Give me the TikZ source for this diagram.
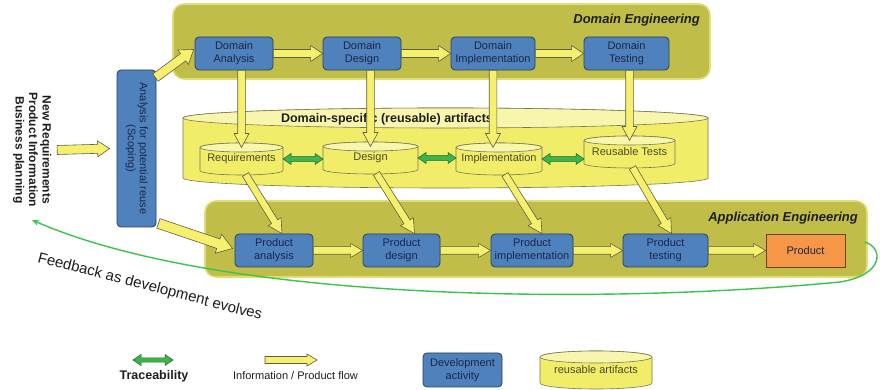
\documentclass[tikz,border=0pt]{standalone}
\usepackage{fontspec}
\setmainfont{Liberation Sans}
\setsansfont{Liberation Sans}
\usepackage{graphicx}
\usetikzlibrary{calc,arrows.meta}
\pgfdeclarelayer{bg}
\pgfdeclarelayer{mid}
\pgfsetlayers{bg,mid,main}
\definecolor{engfill}{RGB}{192,190,72}
\definecolor{engedge}{RGB}{224,222,120}
\definecolor{actfill}{RGB}{79,129,189}
\definecolor{actedge}{RGB}{40,62,98}
\definecolor{acttext}{RGB}{25,40,72}
\definecolor{artbody}{RGB}{242,237,104}
\definecolor{arttop}{RGB}{248,245,172}
\definecolor{artedge}{RGB}{120,120,85}
\definecolor{arttext}{RGB}{75,75,45}
\definecolor{flowfill}{RGB}{246,240,110}
\definecolor{flowedge}{RGB}{95,95,75}
\definecolor{tracefill}{RGB}{62,180,76}
\definecolor{traceedge}{RGB}{30,105,40}
\definecolor{prodfill}{RGB}{247,150,70}
\definecolor{prodedge}{RGB}{105,68,30}
\definecolor{fbgreen}{RGB}{60,195,75}
\definecolor{txtdark}{RGB}{30,30,30}
\tikzset{
  eng/.style={rectangle, rounded corners=11pt, fill=engfill, draw=engedge, line width=1.6pt, inner sep=0pt},
  act/.style={rectangle, rounded corners=4pt, fill=actfill, draw=actedge, line width=0.8pt,
    text=acttext, font=\fontsize{11}{13}\selectfont, align=center, inner sep=1pt, minimum height=33pt},
  prodbox/.style={act, rounded corners=0pt, fill=prodfill, draw=prodedge},
  artnode/.style={rectangle, inner sep=0pt, outer sep=0pt, text=arttext, font=\fontsize{11}{13}\selectfont},
  cylline/.style={draw=artedge, line width=0.6pt},
  flow/.style={fill=flowfill, draw=flowedge, line width=0.6pt, line join=miter},
  trace/.style={fill=tracefill, draw=traceedge, line width=0.5pt},
  englabel/.style={font=\fontsize{13}{15}\selectfont\bfseries\itshape, text=txtdark, inner sep=0pt},
  fb/.style={draw=fbgreen, line width=1.4pt, -{Stealth[length=7pt,width=6pt]}},
}
\newcommand\fatarrow[6]{%
  \draw[#1] let \p1=(#2), \p2=(#3), \n1={atan2(\y2-\y1,\x2-\x1)} in
    ($(\p1)+({\n1+90}:#4)$)
    -- ($(\p2)+({\n1+180}:#6)+({\n1+90}:#4)$)
    -- ($(\p2)+({\n1+180}:#6)+({\n1+90}:#5)$)
    -- (\p2)
    -- ($(\p2)+({\n1+180}:#6)+({\n1-90}:#5)$)
    -- ($(\p2)+({\n1+180}:#6)+({\n1-90}:#4)$)
    -- ($(\p1)+({\n1-90}:#4)$) -- cycle;}
\newcommand\dblarrow[6]{%
  \draw[#1] let \p1=(#2), \p2=(#3), \n1={atan2(\y2-\y1,\x2-\x1)} in
    (\p1)
    -- ($(\p1)+(\n1:#6)+({\n1+90}:#5)$)
    -- ($(\p1)+(\n1:#6)+({\n1+90}:#4)$)
    -- ($(\p2)+({\n1+180}:#6)+({\n1+90}:#4)$)
    -- ($(\p2)+({\n1+180}:#6)+({\n1+90}:#5)$)
    -- (\p2)
    -- ($(\p2)+({\n1+180}:#6)+({\n1-90}:#5)$)
    -- ($(\p2)+({\n1+180}:#6)+({\n1-90}:#4)$)
    -- ($(\p1)+(\n1:#6)+({\n1-90}:#4)$)
    -- ($(\p1)+(\n1:#6)+({\n1-90}:#5)$) -- cycle;}
\newcommand\drawcyl[4]{%
  \draw[cylline, fill=#3] let \p1=(#1.north west), \p2=(#1.south east), \n1={(\x2-\x1)/2} in
    (\p1) -- (\x1,\y2) arc[start angle=180, end angle=360, x radius=\n1*1pt, y radius=#2]
    -- (\x2,\y1) arc[start angle=0, end angle=180, x radius=\n1*1pt, y radius=#2] -- cycle;
  \draw[cylline, fill=#4] let \p1=(#1.north west), \p2=(#1.south east), \n1={(\x2-\x1)/2} in
    ($(\p1)!0.5!(\x2,\y1)$) ellipse[x radius=\n1*1pt, y radius=#2];}
\begin{document}
\begin{tikzpicture}[x=1pt, y=1pt]
\useasboundingbox (0,0) rectangle (880,390);

% ---------- background layer: engineering areas and artifact repository
\begin{pgfonlayer}{bg}
  \fill[white] (0,0) rectangle (880,390);
  \node[eng, minimum width=537pt, minimum height=75pt] (de) at (441.5,348.5) {};
  \node[eng, minimum width=662pt, minimum height=76pt] (ae) at (536,151) {};
  \node[artnode, minimum width=525pt, minimum height=60pt] (arts) at (445.5,242) {};
  \drawcyl{arts}{10pt}{artbody}{arttop}
\end{pgfonlayer}

\node[englabel, anchor=base east] (delab) at (700,366) {Domain Engineering};
\node[englabel, anchor=base east] (aelab) at (858,168) {Application Engineering};
\node[font=\fontsize{12.5}{14}\selectfont\bfseries, text=txtdark, inner sep=0pt, anchor=base] (artlab) at (387,267) {Domain-specific (reusable) artifacts};

% ---------- domain activities
\node[act, minimum width=78pt] (da) at (234,336.5) {Domain\\Analysis};
\node[act, minimum width=78pt] (dd) at (362,336.5) {Domain\\Design};
\node[act, minimum width=84pt] (di) at (493,336.5) {Domain\\Implementation};
\node[act, minimum width=85pt] (dt) at (626.5,336.5) {Domain\\Testing};

% ---------- reusable artifacts
\node[artnode, minimum width=83pt, minimum height=23pt] (req) at (241.5,231) {Requirements};
\node[artnode, minimum width=95pt, minimum height=23pt] (des) at (370.5,232) {Design};
\node[artnode, minimum width=86pt, minimum height=23pt] (imp) at (499,231) {Implementation};
\node[artnode, minimum width=91pt, minimum height=23pt] (rt) at (629.5,238) {Reusable Tests};
\begin{pgfonlayer}{mid}
  \drawcyl{req}{4.5pt}{artbody}{arttop}
  \drawcyl{des}{4.5pt}{artbody}{arttop}
  \drawcyl{imp}{4.5pt}{artbody}{arttop}
  \drawcyl{rt}{4.5pt}{artbody}{arttop}
\end{pgfonlayer}

% ---------- product activities
\node[act, minimum width=78pt] (pa) at (274,139.5) {Product\\analysis};
\node[act, minimum width=77pt] (pd) at (401.5,139.5) {Product\\design};
\node[act, minimum width=82pt] (pim) at (532,139.5) {Product\\implementation};
\node[act, minimum width=85pt] (pt) at (665.5,139.5) {Product\\testing};
\node[prodbox, minimum width=79pt] (prod) at (805.5,139.5) {Product};

% ---------- scoping and input
\node[act, minimum width=39pt, minimum height=157pt, inner sep=0pt] (scope) at (136.5,241.5)
  {\rotatebox{-90}{\begin{tabular}{@{}c@{}}Analysis for potential reuse\\[-1pt](Scoping)\end{tabular}}};
\node[inner sep=0pt, text=txtdark, font=\fontsize{12}{15}\selectfont\bfseries] (input) at (32,240)
  {\rotatebox{-90}{\begin{tabular}{@{}c@{}}New Requirements\\[-1.5pt]Product Information\\[-1.5pt]Business planning\end{tabular}}};

% ---------- information / product flow
\fatarrow{flow}{$(input.east)+(4,0)$}{$(scope.west)+(-7,0)$}{4.5pt}{8pt}{12pt}
\fatarrow{flow}{$(scope.north east)+(-1,-8)$}{$(da.west)+(-1,4)$}{4.5pt}{9pt}{13pt}
\fatarrow{flow}{$(scope.south east)+(2,4)$}{$(pa.west)+(-2,2)$}{5pt}{10pt}{15pt}

\fatarrow{flow}{da.east}{dd.west}{4pt}{8pt}{12pt}
\fatarrow{flow}{dd.east}{di.west}{4pt}{8pt}{12pt}
\fatarrow{flow}{di.east}{dt.west}{4pt}{8pt}{12pt}

\fatarrow{flow}{req.north |- da.south}{req.north}{3.8pt}{7.5pt}{14pt}
\fatarrow{flow}{des.north |- dd.south}{des.north}{3.8pt}{7.5pt}{14pt}
\fatarrow{flow}{di.south}{di.south |- imp.north}{3.8pt}{7.5pt}{14pt}
\fatarrow{flow}{rt.north |- dt.south}{rt.north}{3.8pt}{7.5pt}{14pt}

\fatarrow{flow}{$(req.south)+(4,-4)$}{$(pa.north)+(8,0)$}{3.6pt}{7.5pt}{14pt}
\fatarrow{flow}{$(des.south)+(6,-4)$}{$(pd.north)+(13,0)$}{3.6pt}{7.5pt}{14pt}
\fatarrow{flow}{$(imp.south)+(6,-4)$}{$(pim.north)+(10,0)$}{3.6pt}{7.5pt}{14pt}
\fatarrow{flow}{$(rt.south)+(3,-4)$}{$(pt.north)+(6,0)$}{3.6pt}{7.5pt}{14pt}

\fatarrow{flow}{pa.east}{pd.west}{3.8pt}{7pt}{12pt}
\fatarrow{flow}{pd.east}{pim.west}{3.8pt}{7pt}{12pt}
\fatarrow{flow}{pim.east}{pt.west}{3.8pt}{7pt}{12pt}
\fatarrow{flow}{pt.east}{prod.west}{3.8pt}{7pt}{12pt}

% ---------- traceability
\dblarrow{trace}{req.east}{des.west |- req.east}{2.4pt}{5.5pt}{8pt}
\dblarrow{trace}{des.east}{imp.west |- des.east}{2.4pt}{5.5pt}{8pt}
\dblarrow{trace}{imp.east}{rt.west |- imp.east}{2.4pt}{5.5pt}{8pt}

% ---------- feedback loop
\coordinate (fbs) at ($(ae.east)+(-3,-3)$);
\coordinate (fbe) at (32,170);
\draw[fb] (fbs) .. controls (884,142) and (884,115) .. (840,108)
  .. controls (600,85) and (220,88) .. (fbe);
\node[font=\fontsize{15}{15}\selectfont, text=txtdark, inner sep=0pt, rotate=-14.5, anchor=base west] (fblab) at (37,128) {Feedback as development evolves};

% ---------- legend
\coordinate (tr1) at (133,30);
\coordinate (tr2) at (173,30);
\dblarrow{trace}{tr1}{tr2}{2.2pt}{5.5pt}{8pt}
\node[font=\fontsize{12.5}{14}\selectfont\bfseries, text=txtdark, inner sep=0pt] (trlab) at (154,14) {Traceability};
\coordinate (fl1) at (265,30);
\coordinate (fl2) at (317,30);
\fatarrow{flow}{fl1}{fl2}{3.5pt}{6pt}{10pt}
\node[font=\fontsize{11}{13}\selectfont, text=txtdark, inner sep=0pt] (fllab) at (295.5,14) {Information / Product flow};
\node[act, minimum width=79pt, minimum height=34pt] (legact) at (462.5,20) {Development\\activity};
\node[artnode, minimum width=112pt, minimum height=26pt] (legart) at (596,20) {reusable artifacts};
\begin{pgfonlayer}{mid}
  \drawcyl{legart}{6pt}{artbody}{arttop}
\end{pgfonlayer}
\end{tikzpicture}
\end{document}
